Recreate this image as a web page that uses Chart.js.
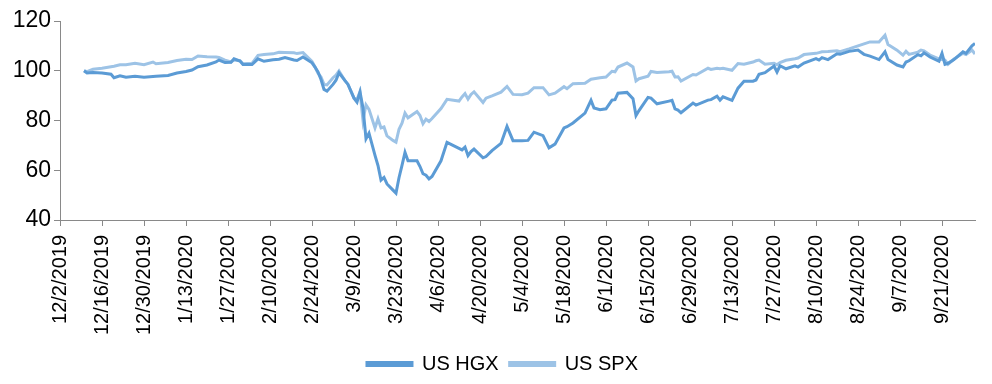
<!DOCTYPE html>
<html>
<head>
<meta charset="utf-8">
<script src="https://cdn.jsdelivr.net/npm/chart.js@4/dist/chart.umd.min.js"></script>
<style>
html,body{margin:0;padding:0;background:#fff;}
#wrap{width:992px;height:384px;position:relative;}
</style>
</head>
<body>
<div id="wrap"><canvas id="c" width="992" height="384"></canvas></div>
<script>
const axisStart = '12/2/2019';
const axisEnd = '10/2/2020';

const dates = [
'12/10/2019','12/11/2019','12/13/2019','12/16/2019','12/19/2019','12/20/2019','12/22/2019','12/24/2019','12/27/2019','12/30/2019',
'1/2/2020','1/3/2020','1/7/2020','1/10/2020','1/13/2020','1/15/2020','1/17/2020','1/20/2020','1/23/2020','1/24/2020',
'1/26/2020','1/28/2020','1/29/2020','1/31/2020','2/1/2020','2/4/2020','2/6/2020','2/8/2020','2/11/2020','2/13/2020',
'2/15/2020','2/18/2020','2/19/2020','2/21/2020','2/24/2020','2/25/2020','2/26/2020','2/27/2020','2/28/2020','2/29/2020',
'3/2/2020','3/3/2020','3/4/2020','3/6/2020','3/7/2020','3/9/2020','3/10/2020','3/11/2020','3/12/2020','3/13/2020',
'3/14/2020','3/16/2020','3/17/2020','3/18/2020','3/19/2020','3/20/2020','3/22/2020','3/23/2020','3/24/2020','3/25/2020',
'3/26/2020','3/27/2020','3/30/2020','3/31/2020','4/1/2020','4/2/2020','4/3/2020','4/4/2020','4/7/2020','4/9/2020',
'4/13/2020','4/14/2020','4/15/2020','4/16/2020','4/17/2020','4/18/2020','4/21/2020','4/22/2020','4/24/2020','4/27/2020',
'4/29/2020','5/1/2020','5/4/2020','5/6/2020','5/8/2020','5/11/2020','5/13/2020','5/15/2020','5/18/2020','5/19/2020',
'5/21/2020','5/25/2020','5/27/2020','5/28/2020','5/30/2020','6/1/2020','6/3/2020','6/4/2020','6/5/2020','6/8/2020',
'6/10/2020','6/11/2020','6/12/2020','6/15/2020','6/16/2020','6/18/2020','6/22/2020','6/23/2020','6/24/2020','6/25/2020',
'6/26/2020','6/30/2020','7/1/2020','7/5/2020','7/6/2020','7/8/2020','7/9/2020','7/10/2020','7/13/2020','7/15/2020',
'7/17/2020','7/20/2020','7/21/2020','7/22/2020','7/24/2020','7/27/2020','7/28/2020','7/29/2020','7/31/2020','8/3/2020',
'8/4/2020','8/6/2020','8/10/2020','8/11/2020','8/12/2020','8/14/2020','8/17/2020','8/18/2020','8/21/2020','8/24/2020',
'8/26/2020','8/28/2020','8/31/2020','9/2/2020','9/3/2020','9/6/2020','9/8/2020','9/9/2020','9/10/2020','9/13/2020',
'9/14/2020','9/15/2020','9/17/2020','9/20/2020','9/21/2020','9/22/2020','9/23/2020','9/25/2020','9/28/2020','9/29/2020',
'10/1/2020','10/2/2020'
];

const usHGX = [
100,99.1,99.3,99.1,98.6,97.2,98,97.4,97.8,97.4,
97.7,97.8,98.1,99.1,99.7,100.3,101.6,102.3,103.6,104.3,
103.3,103.4,104.8,103.9,102.5,102.5,104.8,103.8,104.4,104.6,
105.3,104.3,104.1,105.5,103.2,101.5,99.5,96.5,92.5,91.8,
94.5,96.2,99.2,96,94.5,89,87.4,91.5,85,72.7,
74.9,66,61.9,56,57.1,54.5,52,50.8,57,62,
67.2,63.8,63.8,61.5,58.6,58,56.5,57.5,63.8,71.2,
68.8,68.2,69.3,65.9,67.5,68.5,65,65.5,67.9,70.8,
77.6,71.9,71.9,72,75.3,73.9,69,70.5,77,77.5,
79,83,88.1,85,84.3,84.7,88.2,88.4,91,91.3,
88.8,82,84,89.3,89,86.7,87.8,88.1,84.7,84.2,
83.1,87,86.2,88.2,88.4,89.8,88.2,89.5,88.1,93,
95.8,95.8,96.3,98.6,99.2,101.9,99.5,102,100.8,102,
101.5,103.1,104.9,104.3,105.3,104.5,106.8,106.6,107.8,108.3,
106.6,105.9,104.5,107.6,104.5,102.3,101.5,103.5,104,106.5,
106,107.2,105.5,103.8,107,102.6,103,104.5,107.6,107,
110,111
];

const usSPX = [
100,99.6,100.6,101,101.6,101.8,102.4,102.4,103,102.4,
103.5,102.8,103.3,104.1,104.6,104.5,105.9,105.6,105.5,105.3,
104.3,103.5,104.3,104,102.8,103,106.2,106.5,106.8,107.4,
107.3,107.2,106.9,107.3,103.8,101.5,99,97.5,94.5,94.3,
97.2,98.2,99.9,96,94.5,89,88.5,91.5,80,86.3,
84.5,77,80.7,77,77.4,73.8,72,71.3,76.5,78.9,
83,81.1,83.6,82,78.7,80.5,79.6,80.8,84.8,88.5,
87.8,89.5,90.8,88.6,90.5,91.5,87.2,89,89.9,91.4,
93.7,90.5,90.4,91,93.2,93.2,90.3,91,93.6,92.8,
94.8,95,96.6,96.8,97.2,97.5,99.8,99.6,101.5,103.1,
101.5,95.9,96.8,97.8,99.7,99.3,99.6,99.8,97.5,97.6,
95.9,98.5,98.3,101,100.5,101,100.8,101,100.2,102.9,
102.6,103.5,104,104.3,102.6,103,102.4,103.3,104.2,104.8,
105.1,106.5,107,107.3,107.6,107.7,108,107.7,108.8,110,
110.8,111.6,111.6,114.3,110.5,108.3,106.3,107.8,106.6,107.5,
108.3,108,106.3,104.8,104.5,104.3,102.6,104.7,107,106.5,
108.3,106.7
];

const tickLabels = ['12/2/2019','12/16/2019','12/30/2019','1/13/2020','1/27/2020','2/10/2020','2/24/2020','3/9/2020','3/23/2020','4/6/2020','4/20/2020','5/4/2020','5/18/2020','6/1/2020','6/15/2020','6/29/2020','7/13/2020','7/27/2020','8/10/2020','8/24/2020','9/7/2020','9/21/2020'];
const yTicks = [40,60,80,100,120];

function dayOf(s){
  const p = s.split('/').map(Number);
  return Math.round((Date.UTC(p[2],p[0]-1,p[1]) - Date.UTC(2019,11,2)) / 86400000);
}
const xs = dates.map(dayOf);
const tickDays = tickLabels.map(dayOf);
const labelByDay = {};
tickLabels.forEach((t,i)=>{ labelByDay[tickDays[i]] = t; });

const axisColor = '#898989';
const family = '"Liberation Sans", Arial, sans-serif';

const legendShift = {
  id: 'legendShift',
  afterLayout(chart){ if (chart.legend) { chart.legend.left += 30; } }
};

new Chart(document.getElementById('c'), {
  type: 'line',
  data: {
    datasets: [
      {label: 'US HGX', data: xs.map((x,i)=>({x, y: usHGX[i]})), borderColor: '#5B9BD5', backgroundColor: '#5B9BD5', borderWidth: 3, pointRadius: 0, tension: 0},
      {label: 'US SPX', data: xs.map((x,i)=>({x, y: usSPX[i]})), borderColor: '#9DC3E6', backgroundColor: '#9DC3E6', borderWidth: 3, pointRadius: 0, tension: 0}
    ]
  },
  plugins: [legendShift],
  options: {
    responsive: false,
    animation: false,
    layout: {padding: {left: 0, right: 17, top: 21, bottom: 0}},
    plugins: {
      legend: {
        position: 'bottom',
        labels: {font: {family, size: 20}, color: '#000', boxWidth: 45, boxHeight: 3, padding: 11}
      },
      tooltip: {enabled: false}
    },
    scales: {
      x: {
        type: 'linear',
        min: dayOf(axisStart),
        max: dayOf(axisEnd),
        afterBuildTicks: (s)=>{ s.ticks = tickDays.map(v=>({value: v})); },
        afterFit: (s)=>{ s.height = 123; },
        grid: {display: true, drawOnChartArea: false, drawTicks: true, tickLength: 6, color: axisColor},
        border: {display: true, color: axisColor, width: 1},
        ticks: {
          font: {family, size: 20}, color: '#000', maxRotation: 90, minRotation: 90, autoSkip: false, padding: 9,
          callback: (v)=> labelByDay[v] || ''
        }
      },
      y: {
        min: 40, max: 120,
        afterBuildTicks: (s)=>{ s.ticks = yTicks.map(v=>({value: v})); },
        afterFit: (s)=>{ s.width = 60; },
        grid: {display: true, drawOnChartArea: false, drawTicks: true, tickLength: 6, color: axisColor},
        border: {display: true, color: axisColor, width: 1},
        ticks: {font: {family, size: 23}, color: '#000', padding: 3}
      }
    }
  }
});
</script>
</body>
</html>
